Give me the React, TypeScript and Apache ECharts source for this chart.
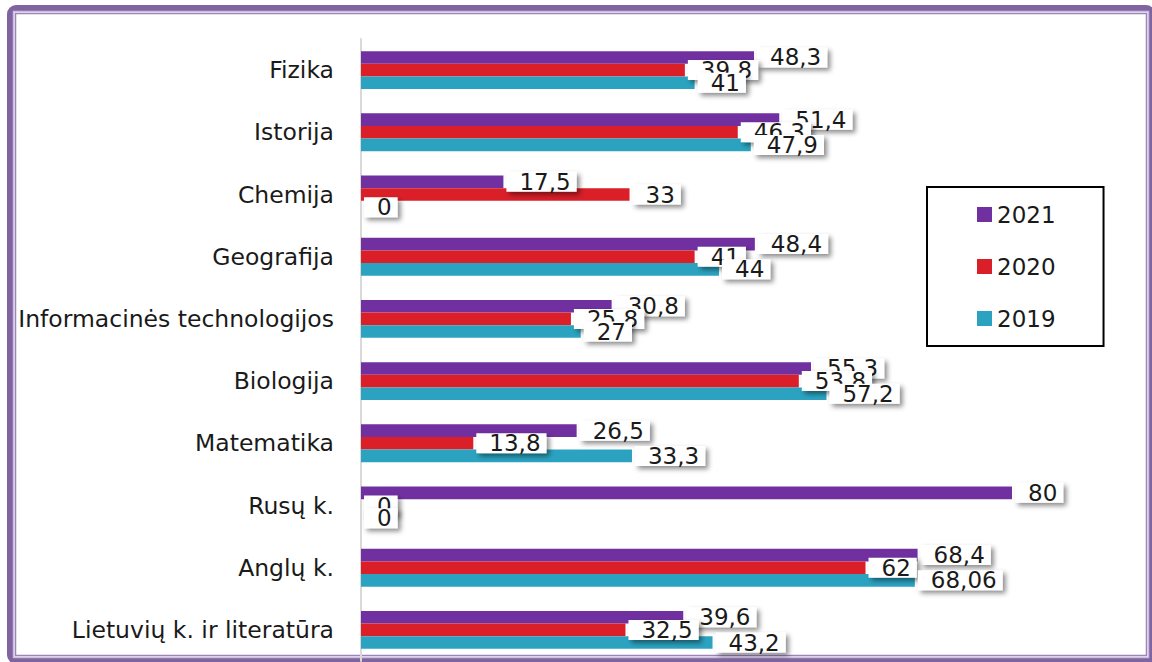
import React, { useEffect, useRef } from "react";
import * as echarts from "echarts";

const categories = [
  "Fizika",
  "Istorija",
  "Chemija",
  "Geografija",
  "Informacinės technologijos",
  "Biologija",
  "Matematika",
  "Rusų k.",
  "Anglų k.",
  "Lietuvių k. ir literatūra",
];
const seriesNames = ["2021", "2020", "2019"];
const values2021 = [48.3, 51.4, 17.5, 48.4, 30.8, 55.3, 26.5, 80, 68.4, 39.6];
const values2020 = [39.8, 46.3, 33, 41, 25.8, 53.8, 13.8, 0, 62, 32.5];
const values2019 = [41, 47.9, 0, 44, 27, 57.2, 33.3, 0, 68.06, 43.2];
const colors = ["#7030A0", "#DA1F28", "#2BA3C0"];

const FONT = "DejaVu Sans";

export default function App() {
  const ref = useRef<HTMLDivElement>(null);
  useEffect(() => {
    if (!ref.current) return;
    const chart = echarts.init(ref.current, null, { renderer: "svg" });
    const allValues = [values2021, values2020, values2019];
    const label = {
      show: true,
      position: "right",
      distance: 3,
      fontFamily: FONT,
      fontSize: 23,
      color: "#1a1a1a",
      lineHeight: 20,
      backgroundColor: "#ffffff",
      padding: [0, 6, 0, 13],
      shadowColor: "rgba(0,0,0,0.45)",
      shadowBlur: 5,
      shadowOffsetX: 3,
      shadowOffsetY: 3,
      formatter: (p: any) => String(p.value).replace(".", ","),
    };
    chart.setOption({
      animation: false,
      backgroundColor: "#ffffff",
      color: colors,
      graphic: [
        {
          type: "rect",
          shape: { x: 10, y: 8, width: 1142, height: 653, r: 6 },
          style: { fill: "none", stroke: "#8064A2", lineWidth: 6 },
          silent: true,
        },
        {
          type: "rect",
          shape: { x: 13.5, y: 11.5, width: 1135, height: 646 },
          style: { fill: "none", stroke: "#CBBEDD", lineWidth: 1.5 },
          silent: true,
        },
        {
          type: "rect",
          shape: { x: 15.5, y: 13.5, width: 1131, height: 642 },
          style: { fill: "none", stroke: "#9A84B8", lineWidth: 1.5 },
          silent: true,
        },
      ],
      legend: {
        orient: "vertical",
        left: 927,
        top: 187,
        width: 180,
        borderColor: "#000000",
        borderWidth: 2,
        padding: [16, 48, 16, 50],
        itemWidth: 15,
        itemHeight: 15,
        itemGap: 29,
        icon: "rect",
        data: seriesNames,
        textStyle: {
          fontFamily: FONT,
          fontSize: 23,
          lineHeight: 22,
          color: "#1a1a1a",
        },
      },
      grid: { left: 361, right: 140, top: 39, bottom: 1, containLabel: false },
      xAxis: {
        type: "value",
        min: 0,
        max: 80,
        show: false,
      },
      yAxis: {
        type: "category",
        data: categories,
        inverse: true,
        axisLine: { show: true, lineStyle: { color: "#D9D9D9", width: 2 } },
        axisTick: { show: false },
        axisLabel: {
          fontFamily: FONT,
          fontSize: 23.5,
          color: "#1a1a1a",
          margin: 27,
        },
      },
      series: seriesNames.map((name, i) => ({
        name,
        type: "bar",
        data: allValues[i],
        barGap: "0%",
        barCategoryGap: "39%",
        label,
      })),
    });
    return () => chart.dispose();
  }, []);
  return (
    <div
      ref={ref}
      style={{ position: "fixed", left: 0, top: 0, width: 1152, height: 662 }}
    />
  );
}
